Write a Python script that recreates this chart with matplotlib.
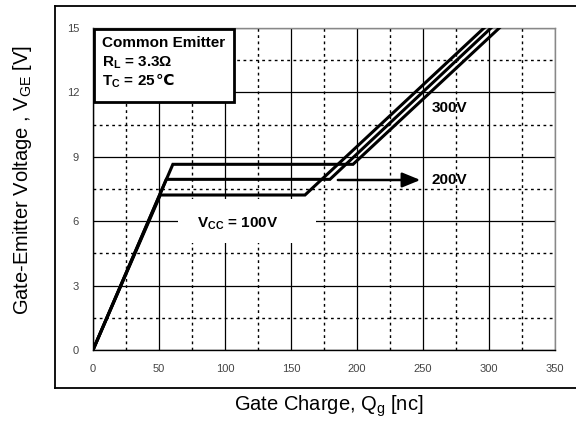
import matplotlib
matplotlib.use('Agg')
import matplotlib.pyplot as plt
from matplotlib.lines import Line2D
from matplotlib.patches import Rectangle

# gate charge curves
qg_100 = [0, 51, 160.6, 296.2]
vge_100 = [0, 7.22, 7.22, 15]
qg_200 = [0, 55.5, 179.5, 301.5]
vge_200 = [0, 7.95, 7.95, 15]
qg_300 = [0, 60.5, 197, 307.8]
vge_300 = [0, 8.65, 8.65, 15]

x_ticks = [0, 50, 100, 150, 200, 250, 300, 350]
y_ticks = [0, 3, 6, 9, 12, 15]

plt.rcParams['font.family'] = ['Liberation Sans', 'DejaVu Sans']

fig = plt.figure(figsize=(5.76, 4.26), dpi=100)
ax = fig.add_axes([93 / 576, 1 - 350 / 426, 462 / 576, 322 / 426])

# outer frame (open on the right)
fig.add_artist(Line2D([55 / 576, 1.01], [1 - 6 / 426] * 2, color='black', lw=1.3))
fig.add_artist(Line2D([55 / 576, 1.01], [1 - 388 / 426] * 2, color='black', lw=1.3))
fig.add_artist(Line2D([55 / 576] * 2, [1 - 6 / 426, 1 - 388 / 426], color='black', lw=1.3))

ax.set_xlim(0, 350)
ax.set_ylim(0, 15)
ax.set_xticks(x_ticks)
ax.set_yticks(y_ticks)
ax.set_xticks([25, 75, 125, 175, 225, 275, 325], minor=True)
ax.set_yticks([1.5, 4.5, 7.5, 10.5, 13.5], minor=True)
ax.tick_params(which='both', length=0, labelsize=8, labelcolor='#444444')
ax.tick_params(axis='x', pad=10)
ax.tick_params(axis='y', pad=10)
ax.grid(which='major', color='black', lw=0.9, ls='-')
ax.grid(which='minor', color='black', lw=1.0, ls=(0, (2, 2.5)))
ax.set_axisbelow(True)
for side in ['top', 'right']:
    ax.spines[side].set_color('#888888')
for side in ['left', 'bottom']:
    ax.spines[side].set_color('black')
for s in ax.spines.values():
    s.set_linewidth(1.0)

# white patch behind the Vcc label
ax.add_patch(Rectangle((64.5, 5.0), 104.5, 2.05, facecolor='white', edgecolor='none', zorder=1.5))

ax.plot(qg_100, vge_100, color='black', lw=2.2, zorder=3, solid_joinstyle='miter')
ax.plot(qg_200, vge_200, color='black', lw=2.2, zorder=3, solid_joinstyle='miter')
ax.plot(qg_300, vge_300, color='black', lw=2.2, zorder=3, solid_joinstyle='miter')

ax.annotate('', xy=(248, 7.92), xytext=(185.5, 7.92),
            arrowprops=dict(arrowstyle='-|>,head_length=1.1,head_width=0.45', color='black', lw=1.8,
                            shrinkA=0, shrinkB=0), zorder=4)

ax.text(256.5, 7.9, '200V', fontsize=11, fontweight='bold', va='center', ha='left', zorder=4)
ax.text(256.5, 11.27, '300V', fontsize=11, fontweight='bold', va='center', ha='left', zorder=4)
ax.text(78.7, 5.87, r'V$_{\mathregular{CC}}$ = 100V', fontsize=11, fontweight='bold',
        va='center', ha='left', zorder=4)

# condition box
ax.add_patch(Rectangle((0.8, 11.55), 106, 3.42, facecolor='white', edgecolor='black', lw=2.0, zorder=4.5))
ax.text(6.8, 14.13, 'Common Emitter', fontsize=11, fontweight='bold', va='baseline', ha='left', zorder=5)
ax.text(6.8, 13.2, r'R$_\mathregular{L}$ = 3.3Ω', fontsize=11, fontweight='bold', va='baseline',
        ha='left', zorder=5)
tc = ax.text(6.8, 12.34, r'T$_\mathregular{C}$ = 25', fontsize=11, fontweight='bold', va='baseline',
             ha='left', zorder=5)
ax.annotate('℃', xy=(1, 12.34), xycoords=(tc, 'data'), fontsize=11, fontweight='bold',
            family='DejaVu Sans', va='baseline', ha='left', zorder=5)

fig.text(329 / 576, 1 - 406 / 426, r'Gate Charge, Q$_\mathregular{g}$ [nc]', fontsize=14.5,
         ha='center', va='center')
fig.text(23 / 576, 1 - 180 / 426, r'Gate-Emitter Voltage , V$_\mathregular{GE}$ [V]', fontsize=14.5,
         rotation=90, ha='center', va='center')

fig.savefig('out.png', dpi=100)
